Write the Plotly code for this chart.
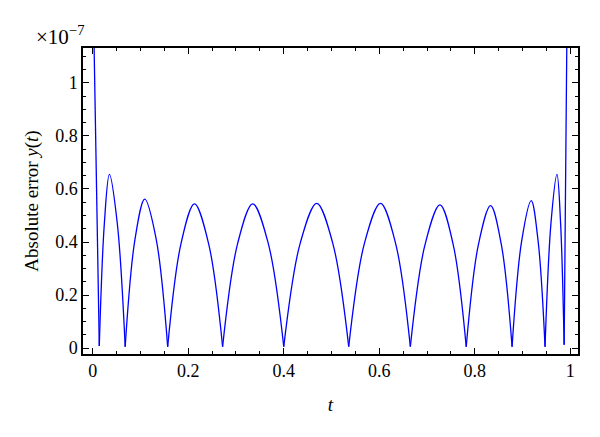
import plotly.graph_objects as go

# Absolute error curve (units of 1e-7); None separates arches
t_vals = [
    0.0, 0.0138, None,
    0.0138, 0.0244, 0.035, 0.0515, 0.068, None,
    0.068, 0.0885, 0.109, 0.133, 0.157, None,
    0.157, 0.185, 0.213, 0.2425, 0.272, None,
    0.272, 0.3035, 0.335, 0.3675, 0.400, None,
    0.400, 0.4345, 0.469, 0.5025, 0.536, None,
    0.536, 0.569, 0.6025, 0.634, 0.665, None,
    0.665, 0.696, 0.727, 0.7545, 0.782, None,
    0.782, 0.8075, 0.833, 0.8555, 0.878, None,
    0.878, 0.898, 0.918, 0.9325, 0.947, None,
    0.947, 0.9595, 0.972, 0.9795, 0.987, None,
    0.987, 0.9925, 1.0,
]
err_vals = [
    1.44, 0.008, None,
    0.008, 0.47, 0.655, 0.47, 0.005, None,
    0.005, 0.41, 0.562, 0.41, 0.005, None,
    0.005, 0.395, 0.544, 0.395, 0.005, None,
    0.005, 0.395, 0.544, 0.395, 0.005, None,
    0.005, 0.396, 0.546, 0.396, 0.005, None,
    0.005, 0.396, 0.546, 0.396, 0.005, None,
    0.005, 0.392, 0.540, 0.392, 0.005, None,
    0.005, 0.39, 0.537, 0.39, 0.005, None,
    0.005, 0.403, 0.556, 0.403, 0.005, None,
    0.005, 0.473, 0.655, 0.473, 0.012, None,
    0.012, 1.13, 2.6,
]

x_tickvals = [0, 0.2, 0.4, 0.6, 0.8, 1.0]
x_ticktext = ["0", "0.2", "0.4", "0.6", "0.8", "1"]
y_tickvals = [0, 0.2, 0.4, 0.6, 0.8, 1.0]
y_ticktext = ["0", "0.2", "0.4", "0.6", "0.8", "1"]

FONT = "Liberation Serif"

fig = go.Figure()
fig.add_trace(go.Scatter(
    x=t_vals, y=err_vals, mode="lines",
    line=dict(color="#0000ff", width=1.3, shape="spline", smoothing=1.0),
    connectgaps=False, showlegend=False, hoverinfo="skip",
))

axis_common = dict(
    showline=True, linecolor="black", linewidth=1.5, mirror="ticks",
    ticks="inside", ticklen=6, tickwidth=1.3, tickcolor="black",
    showgrid=False, zeroline=False,
    tickfont=dict(family=FONT, size=18, color="black"),
)

fig.update_xaxes(
    range=[-0.0203, 1.016], tickvals=x_tickvals, ticktext=x_ticktext,
    minor=dict(ticks="inside", ticklen=3.5, dtick=0.05, tick0=0, tickcolor="black", tickwidth=1.1),
    title=dict(text="<i>t</i>", font=dict(family=FONT, size=19, color="black"), standoff=17),
    **axis_common,
)
fig.update_yaxes(
    range=[-0.0226, 1.132], tickvals=y_tickvals, ticktext=y_ticktext,
    minor=dict(ticks="inside", ticklen=3.5, dtick=0.05, tick0=0, tickcolor="black", tickwidth=1.1),
    title=dict(text="Absolute error <i>y</i>(<i>t</i>)", font=dict(family=FONT, size=19, color="black"), standoff=12),
    **axis_common,
)

fig.add_annotation(
    text="×10<sup>−7</sup>", xref="paper", yref="paper",
    x=-0.099, y=1.0, xanchor="left", yanchor="bottom", yshift=-3,
    showarrow=False, font=dict(family=FONT, size=21, color="black"),
)

# page body adds an 8px offset, so margins are shifted to compensate
fig.update_layout(
    width=600, height=437,
    margin=dict(l=75, r=30, t=40, b=91),
    plot_bgcolor="white", paper_bgcolor="white",
)

fig.write_html("out.html")
